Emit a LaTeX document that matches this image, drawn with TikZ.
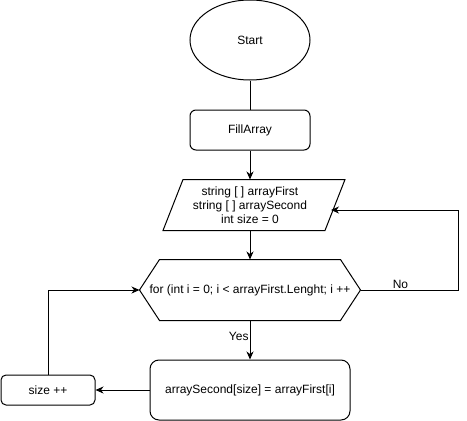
\documentclass[tikz,border=0pt]{standalone}
\usepackage{fontspec}
\setmainfont{Liberation Sans}
\usetikzlibrary{shapes.geometric, arrows.meta, calc}

\begin{document}
\begin{tikzpicture}[x=1pt, y=-1pt, line width=1pt, font=\fontsize{12}{14}\selectfont, >={Stealth[length=8pt, width=7pt, inset=2.5pt]}]%
        \tikzstyle{block}=[draw=black, align=center];%
        \tikzstyle{outline}=[draw=none, align=center];%
        \useasboundingbox (0, 0) rectangle (467, 421);

        \node[ellipse, minimum width=120pt, minimum height=80pt] (start) at (250, 40) [block] {Start};
        \node[rounded corners=6pt, minimum width=120pt, minimum height=40pt] (fill) at (250, 130) [block] {FillArray};

        \node[minimum width=162pt, minimum height=50pt] (vars) at (250, 205) [outline] {string [ ] arrayFirst\\string [ ] arraySecond\\int size = 0};
        \draw ($(vars.north)+(-67, 0)$) -- ($(vars.north)+(95, 0)$) -- ($(vars.south)+(75, 0)$) -- ($(vars.south)+(-87, 0)$) -- cycle;

        \node[minimum width=220pt, minimum height=60pt] (loop) at (250, 290) [outline] {for (int i = 0; i < arrayFirst.Lenght; i ++};
        \draw (loop.west) -- ($(loop.north west)+(20, 0)$) -- ($(loop.north east)+(-20, 0)$) -- (loop.east) -- ($(loop.south east)+(-20, 0)$) -- ($(loop.south west)+(20, 0)$) -- cycle;

        \node[rounded corners=9pt, minimum width=200pt, minimum height=60pt] (body) at (250, 390) [block] {arraySecond[size] = arrayFirst[i]};
        \node[rounded corners=5pt, minimum width=94pt, minimum height=30pt] (size) at (48, 390) [block] {size ++};

        \coordinate (nobend) at (458, 290);
        \coordinate (noend) at (331, 210);

        \draw (start) edge[-] node {} (fill);
        \draw (fill) edge[->] node {} (vars);
        \draw (vars) edge[->] node {} (loop);
        \draw (loop) edge[->] node[left, pos=0.4, inner sep=1pt] {Yes} (body);
        \draw (body) edge[->] node {} (size);
        \draw[->] (size.north) |- (loop.west);
        \draw[->] (loop.east) -- node[above, pos=0.41, inner sep=1pt] {No} (nobend) |- (noend);
    \end{tikzpicture}
\end{document}
